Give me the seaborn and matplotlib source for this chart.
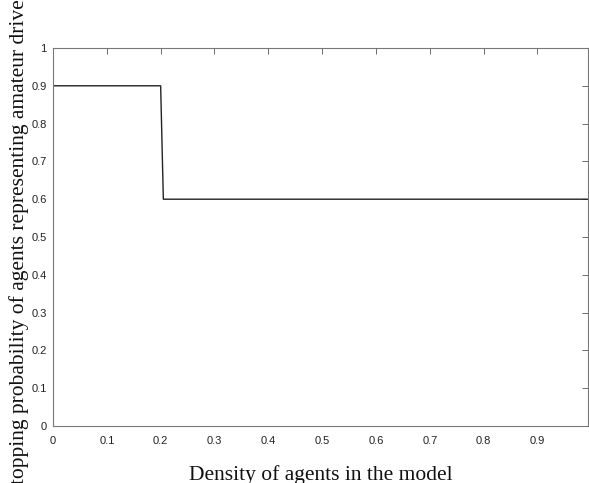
import matplotlib
matplotlib.use("Agg")
import matplotlib.pyplot as plt
import seaborn as sns
import pandas as pd
from matplotlib.ticker import FuncFormatter

density = [0.0, 0.2, 0.205, 1.0]
stop_prob = [0.9, 0.9, 0.6, 0.6]
x_ticks = [0, 0.1, 0.2, 0.3, 0.4, 0.5, 0.6, 0.7, 0.8, 0.9]
y_ticks = [0, 0.1, 0.2, 0.3, 0.4, 0.5, 0.6, 0.7, 0.8, 0.9, 1.0]
x_label = "Density of agents in the model"
y_label = "Stopping probability of agents representing amateur drivers"

sns.set_style("white")
plt.rcParams['font.family'] = ['Liberation Sans', 'DejaVu Sans']

df = pd.DataFrame({"density": density, "prob": stop_prob})

fig = plt.figure(figsize=(5.89, 4.83), dpi=100)
ax = fig.add_axes([53/589, 1-426/483, (588-53)/589, (426-48)/483])

sns.lineplot(data=df, x="density", y="prob", sort=False, color="#222222",
             linewidth=1.0, ax=ax)

ax.set_xlim(0, 0.994)
ax.set_ylim(0, 1)
ax.set_xticks(x_ticks)
ax.set_yticks(y_ticks)
fmt = FuncFormatter(lambda v, p: "%g" % round(v, 2))
ax.xaxis.set_major_formatter(fmt)
ax.yaxis.set_major_formatter(fmt)
ax.tick_params(direction="in", top=True, right=True, length=4, width=0.6,
               color="#555555", labelsize=8, labelcolor="#222222")
ax.tick_params(axis="x", pad=7)
ax.tick_params(axis="y", pad=4.5)
for s in ax.spines.values():
    s.set_color("#777777")
    s.set_linewidth(0.8)

ax.set_xlabel("")
ax.set_ylabel("")
fig.text(321/589, 1-480/483, x_label, ha="center", va="baseline",
         family="Liberation Serif", fontsize=15.5, color="#111111")
fig.text(19/589, 1-240/483, y_label, ha="center", va="center", rotation=90,
         family="Liberation Serif", fontsize=15.5, color="#111111")

fig.savefig("out.png", dpi=100)
